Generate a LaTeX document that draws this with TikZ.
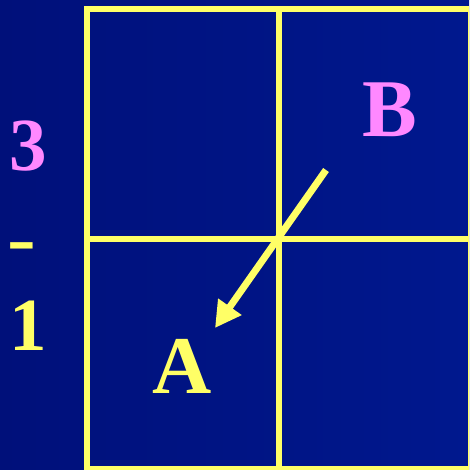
\documentclass[tikz,border=0pt]{standalone}
\usepackage{fontspec}
\setmainfont{Liberation Serif}
\usepackage{tikz}
\usetikzlibrary{arrows.meta}
\definecolor{boardblue}{RGB}{0,16,122}
\definecolor{boardblueR}{RGB}{0,24,142}
\definecolor{lineyellow}{RGB}{255,255,102}
\definecolor{letterpink}{RGB}{255,136,255}
\tikzstyle{gridline} = [draw=lineyellow, line width=6pt]
\tikzstyle{digit} = [inner sep=0pt, anchor=base, font=\fontsize{75}{75}\selectfont\bfseries]
\tikzstyle{bigletter} = [inner sep=0pt, anchor=base, font=\fontsize{82}{82}\selectfont\bfseries]
\tikzstyle{movearrow} = [draw=lineyellow, line width=7pt, -{Triangle[length=26pt, width=27pt]}]

\begin{document}
\begin{tikzpicture}[x=1pt, y=-1pt]
        \useasboundingbox (0,0) rectangle (469,470);
        \clip (0,0) rectangle (469,470);
        \shade[left color=boardblue, right color=boardblueR] (0,0) rectangle (469,470);

        % board
        \draw [gridline] (87,9) rectangle (471,469);
        \draw [gridline] (279,9) -- (279,469);
        \draw [gridline] (87,239) -- (471,239);

        % side labels
        \node (three) [digit, text=letterpink] at (28,171) {3};
        \node (dash) [digit, text=lineyellow, xscale=1.15] at (22,263) {-};
        \node (one) [digit, text=lineyellow] at (28,350) {1};

        % squares
        \node (sqB) [bigletter, text=letterpink] at (390,137) {B};
        \node (sqA) [bigletter, text=lineyellow] at (182,393) {A};

        \coordinate (tail) at (326,170);
        \coordinate (head) at (215,328);
        \draw [movearrow] (tail) -- (head);
\end{tikzpicture}
\end{document}
